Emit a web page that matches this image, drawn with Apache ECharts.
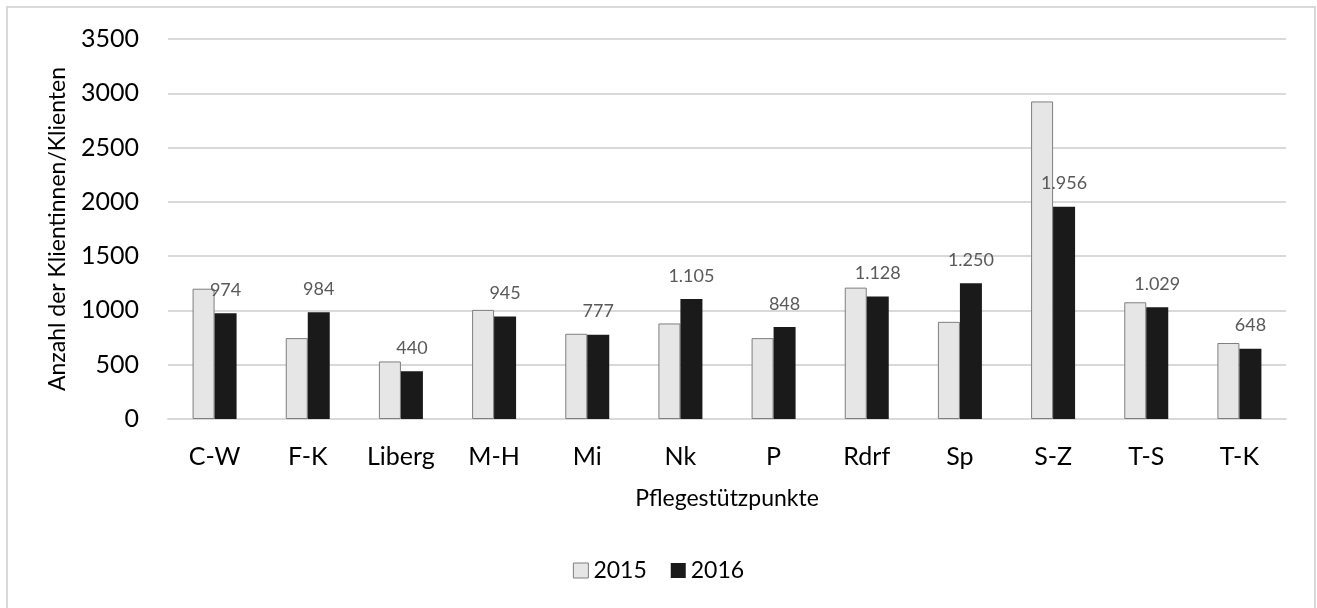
<!DOCTYPE html>
<html>
<head>
<meta charset="utf-8">
<script src="https://cdn.jsdelivr.net/npm/echarts@6/dist/echarts.min.js"></script>
<style>
  html, body { margin: 0; padding: 0; background: #fff; }
  #chart { width: 1317px; height: 608px; }
</style>
</head>
<body>
<div id="chart"></div>
<script>
const categories = ['C-W', 'F-K', 'Liberg', 'M-H', 'Mi', 'Nk', 'P', 'Rdrf', 'Sp', 'S-Z', 'T-S', 'T-K']
const values2015 = [1200, 745, 530, 1005, 785, 880, 745, 1210, 895, 2925, 1075, 700]
const values2016 = [974, 984, 440, 945, 777, 1105, 848, 1128, 1250, 1956, 1029, 648]
const yTicks = [0, 500, 1000, 1500, 2000, 2500, 3000, 3500]

const FONT = 'Lato'

// Zahlen mit deutschem Tausenderpunkt
const deNumber = (v) => String(v).replace(/\B(?=(\d{3})+(?!\d))/g, '.')

const chart = echarts.init(document.getElementById('chart'))

const option = {
  backgroundColor: '#ffffff',
  animation: false,
  textStyle: { fontFamily: FONT },
  graphic: [
    {
      type: 'rect',
      shape: { x: 7, y: 7, width: 1308, height: 640 },
      style: { fill: 'none', stroke: '#d9d9d9', lineWidth: 2 },
      silent: true
    }
  ],
  grid: {
    left: 168,
    right: 31,
    top: 39,
    bottom: 189,
    containLabel: false
  },
  legend: {
    data: [
      { name: '2015', icon: 'rect', itemStyle: { color: '#e6e6e6', borderColor: '#7f7f7f', borderWidth: 1 } },
      { name: '2016', icon: 'rect' }
    ],
    bottom: 21,
    left: 'center',
    itemWidth: 15,
    itemHeight: 15,
    itemGap: 24,
    textStyle: { color: '#000', fontSize: 23, fontFamily: FONT }
  },
  xAxis: {
    type: 'category',
    data: categories,
    name: 'Pflegestützpunkte',
    nameLocation: 'middle',
    nameGap: 68,
    nameTextStyle: { color: '#000', fontSize: 23, fontFamily: FONT },
    axisLine: { lineStyle: { color: '#d9d9d9', width: 2 } },
    axisTick: { show: false },
    axisLabel: { color: '#000', fontSize: 25, margin: 25, fontFamily: FONT }
  },
  yAxis: {
    type: 'value',
    min: yTicks[0],
    max: yTicks[yTicks.length - 1],
    interval: 500,
    name: 'Anzahl der Klientinnen/Klienten',
    nameLocation: 'middle',
    nameGap: 99,
    nameTextStyle: { color: '#000', fontSize: 23, fontFamily: FONT },
    axisLine: { show: false },
    axisTick: { show: false },
    axisLabel: {
      color: '#000',
      fontSize: 25,
      margin: 29,
      fontFamily: FONT,
      formatter: (v) => String(v)
    },
    splitLine: { lineStyle: { color: '#d9d9d9', width: 2 } }
  },
  series: [
    {
      name: '2015',
      type: 'bar',
      data: values2015,
      barWidth: 22,
      barGap: '0%',
      itemStyle: { color: '#e6e6e6', borderColor: '#7f7f7f', borderWidth: 1 }
    },
    {
      name: '2016',
      type: 'bar',
      data: values2016,
      barWidth: 22,
      barGap: '0%',
      itemStyle: { color: '#1a1a1a' },
      label: {
        show: true,
        position: 'top',
        distance: 14,
        color: '#595959',
        fontSize: 18,
        fontFamily: FONT,
        formatter: (p) => deNumber(p.value)
      }
    }
  ]
}

chart.setOption(option)
</script>
</body>
</html>
